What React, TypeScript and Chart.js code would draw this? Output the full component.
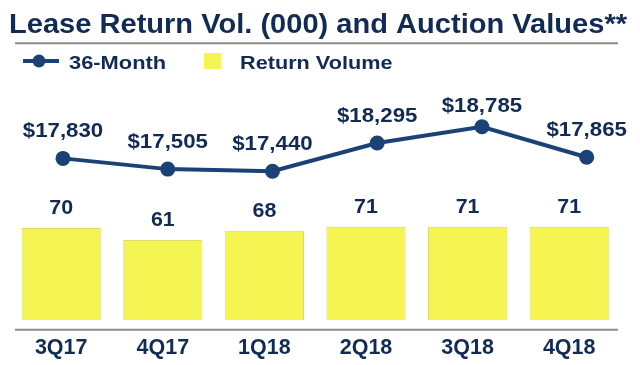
import React, { useEffect, useRef } from "react";
import { Chart, registerables } from "chart.js";

Chart.register(...registerables);

const categories = ["3Q17", "4Q17", "1Q18", "2Q18", "3Q18", "4Q18"];
const returnVolume = [70, 61, 68, 71, 71, 71];
const auctionValues36 = [17830, 17505, 17440, 18295, 18785, 17865];
const titleText = "Lease Return Vol. (000) and Auction Values**";
const lineSeriesName = "36-Month";
const barSeriesName = "Return Volume";

const NAVY_TEXT = "#112b55";
const NAVY_LINE = "#1b4277";
const YELLOW = "#f4f452";
const GREY = "#8c8c8c";
const FONT = '"Liberation Sans", Arial, Helvetica, sans-serif';

function drawText(
  ctx: CanvasRenderingContext2D,
  text: string,
  x: number,
  y: number,
  size: number,
  align: "left" | "center",
  sx: number
) {
  ctx.save();
  ctx.font = `bold ${size}px ${FONT}`;
  ctx.textBaseline = "alphabetic";
  ctx.textAlign = "left";
  ctx.fillStyle = NAVY_TEXT;
  const w = ctx.measureText(text).width * sx;
  const left = align === "center" ? x - w / 2 : x;
  ctx.translate(left, y);
  ctx.scale(sx, 1);
  ctx.fillText(text, 0, 0);
  ctx.restore();
}

const overlayPlugin = {
  id: "overlay",
  beforeDatasetsDraw(chart: any) {
    const ctx = chart.ctx as CanvasRenderingContext2D;
    const ca = chart.chartArea;
    ctx.save();
    ctx.strokeStyle = GREY;
    ctx.lineWidth = 2;
    ctx.beginPath();
    ctx.moveTo(ca.left + 4.6, ca.bottom);
    ctx.lineTo(ca.right - 2, ca.bottom);
    ctx.stroke();
    ctx.restore();
  },
  afterDatasetsDraw(chart: any) {
    const ctx = chart.ctx as CanvasRenderingContext2D;
    const ca = chart.chartArea;
    const barMeta = chart.getDatasetMeta(0);
    barMeta.data.forEach((el: any, i: number) => {
      drawText(ctx, String(returnVolume[i]), el.x, el.y - 14, 20, "center", 1.07);
    });
    const lineMeta = chart.getDatasetMeta(1);
    lineMeta.data.forEach((el: any, i: number) => {
      const label = "$" + auctionValues36[i].toLocaleString("en-US");
      const y = Math.max(el.y - 21, ca.top + 22);
      drawText(ctx, label, el.x, y, 21, "center", 1.06);
    });
  },
  afterDraw(chart: any) {
    const ctx = chart.ctx as CanvasRenderingContext2D;
    ctx.save();
    ctx.font = `bold 27px ${FONT}`;
    const tw = ctx.measureText(titleText).width;
    ctx.restore();
    drawText(ctx, titleText, 9, 32.7, 27, "left", 618 / tw);

    ctx.save();
    ctx.strokeStyle = GREY;
    ctx.lineWidth = 2;
    ctx.beginPath();
    ctx.moveTo(15, 43.3);
    ctx.lineTo(618, 43.3);
    ctx.stroke();
    ctx.restore();

    ctx.save();
    ctx.strokeStyle = NAVY_LINE;
    ctx.lineWidth = 4;
    ctx.beginPath();
    ctx.moveTo(23, 61);
    ctx.lineTo(59, 61);
    ctx.stroke();
    ctx.fillStyle = NAVY_LINE;
    ctx.beginPath();
    ctx.arc(39, 61, 6.5, 0, Math.PI * 2);
    ctx.fill();
    ctx.restore();
    drawText(ctx, lineSeriesName, 69, 68.5, 19, "left", 1.15);

    ctx.save();
    ctx.fillStyle = YELLOW;
    ctx.fillRect(204, 53, 17, 16);
    ctx.restore();
    drawText(ctx, barSeriesName, 240, 68.5, 19, "left", 1.14);
  },
};

export default function App() {
  const canvasRef = useRef<HTMLCanvasElement | null>(null);

  useEffect(() => {
    if (!canvasRef.current) return;
    const chart = new Chart(canvasRef.current, {
      type: "bar",
      data: {
        labels: categories,
        datasets: [
          {
            type: "bar",
            label: barSeriesName,
            data: returnVolume,
            backgroundColor: YELLOW,
            borderColor: "#dcdc66",
            borderWidth: 1,
            barPercentage: 0.78,
            categoryPercentage: 1,
            grouped: false,
            xAxisID: "x",
            yAxisID: "y",
          } as any,
          {
            type: "line",
            label: lineSeriesName,
            data: auctionValues36.map((v, i) => ({ x: i, y: v })),
            borderColor: NAVY_LINE,
            backgroundColor: NAVY_LINE,
            borderWidth: 4,
            pointRadius: 7.5,
            pointBackgroundColor: NAVY_LINE,
            pointBorderWidth: 0,
            tension: 0,
            fill: false,
            xAxisID: "xl",
            yAxisID: "yl",
          } as any,
        ],
      },
      options: {
        animation: false,
        responsive: false,
        devicePixelRatio: 1,
        layout: { padding: { top: 90, left: 10.4, right: 20, bottom: 6 } },
        plugins: {
          legend: { display: false },
          title: { display: false },
          tooltip: { enabled: false },
        },
        scales: {
          x: {
            type: "category",
            offset: true,
            grid: { display: false },
            border: { display: false },
            ticks: {
              color: NAVY_TEXT,
              font: { family: FONT, size: 21.5, weight: "bold" },
              padding: -2.3,
              maxRotation: 0,
            },
          },
          xl: {
            type: "linear",
            display: false,
            offset: false,
            min: -0.502,
            max: 5.318,
          },
          y: {
            display: false,
            min: -7.4,
            max: 175,
          },
          yl: {
            display: false,
            min: 12643,
            max: 19899,
          },
        },
      } as any,
      plugins: [overlayPlugin],
    });
    return () => chart.destroy();
  }, []);

  return (
    <div style={{ position: "absolute", left: 0, top: 0, width: 640, height: 365, background: "#fff" }}>
      <canvas ref={canvasRef} width={640} height={365} style={{ display: "block" }} />
    </div>
  );
}
